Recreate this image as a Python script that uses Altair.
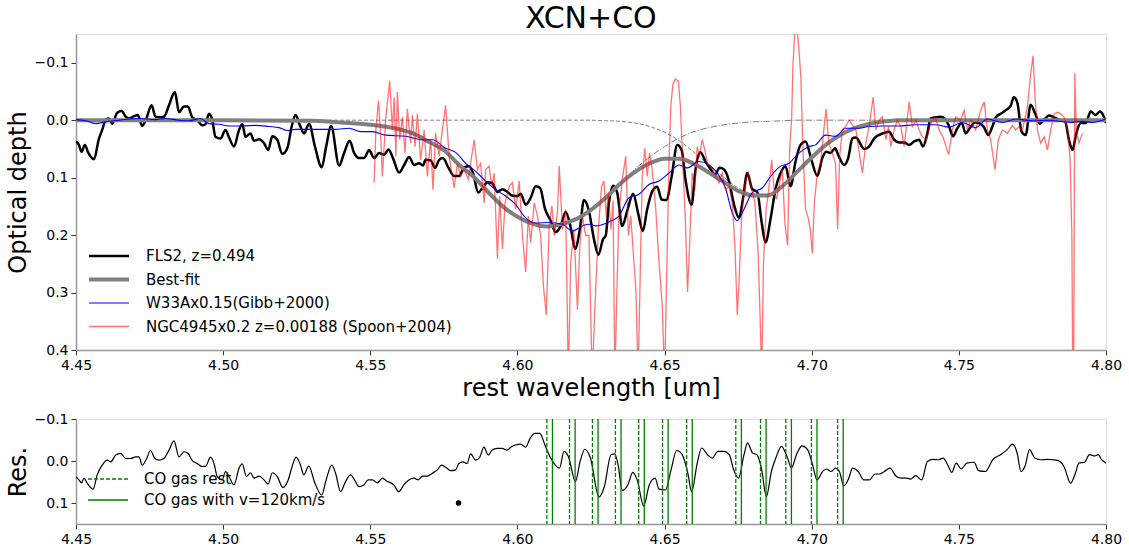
import altair as alt
import pandas as pd

FONT = "DejaVu Sans"

# ---------------- data ----------------
fls2_wl = [4.4500, 4.4510, 4.4519, 4.4530, 4.4542, 4.4561, 4.4578, 4.4589, 4.4601, 4.4612,
           4.4623, 4.4640, 4.4655, 4.4669, 4.4680, 4.4697, 4.4710, 4.4725, 4.4739, 4.4757,
           4.4770, 4.4784, 4.4799, 4.4816, 4.4836, 4.4850, 4.4867, 4.4880, 4.4895, 4.4912,
           4.4929, 4.4940, 4.4952, 4.4963, 4.4974, 4.4991, 4.5008, 4.5020, 4.5037, 4.5054,
           4.5065, 4.5076, 4.5093, 4.5105, 4.5122, 4.5139, 4.5153, 4.5167, 4.5184, 4.5201,
           4.5218, 4.5233, 4.5246, 4.5261, 4.5275, 4.5292, 4.5312, 4.5335, 4.5350, 4.5367,
           4.5394, 4.5411, 4.5430, 4.5445, 4.5462, 4.5479, 4.5496, 4.5513, 4.5530, 4.5547,
           4.5562, 4.5577, 4.5598, 4.5615, 4.5632, 4.5649, 4.5666, 4.5679, 4.5688, 4.5705,
           4.5720, 4.5734, 4.5747, 4.5765, 4.5785, 4.5802, 4.5819, 4.5836, 4.5849, 4.5867,
           4.5881, 4.5898, 4.5913, 4.5932, 4.5949, 4.5966, 4.5981, 4.6000, 4.6011, 4.6028,
           4.6045, 4.6062, 4.6077, 4.6094, 4.6113, 4.6130, 4.6147, 4.6164, 4.6181, 4.6196,
           4.6212, 4.6226, 4.6243, 4.6260, 4.6275, 4.6291, 4.6300, 4.6311, 4.6325, 4.6339,
           4.6356, 4.6373, 4.6393, 4.6411, 4.6426, 4.6441, 4.6458, 4.6475, 4.6490, 4.6506,
           4.6524, 4.6543, 4.6558, 4.6571, 4.6592, 4.6605, 4.6622, 4.6639, 4.6656, 4.6671,
           4.6687, 4.6702, 4.6719, 4.6736, 4.6753, 4.6766, 4.6781, 4.6798, 4.6815, 4.6830,
           4.6843, 4.6860, 4.6877, 4.6894, 4.6911, 4.6928, 4.6945, 4.6962, 4.6979, 4.6999,
           4.7019, 4.7036, 4.7049, 4.7064, 4.7079, 4.7092, 4.7110, 4.7124, 4.7138, 4.7150,
           4.7178, 4.7195, 4.7212, 4.7246, 4.7263, 4.7280, 4.7297, 4.7314, 4.7331, 4.7348,
           4.7365, 4.7378, 4.7393, 4.7404, 4.7421, 4.7438, 4.7455, 4.7467, 4.7480, 4.7495,
           4.7510, 4.7523, 4.7537, 4.7555, 4.7568, 4.7585, 4.7600, 4.7614, 4.7627, 4.7645,
           4.7661, 4.7676, 4.7687, 4.7699, 4.7713, 4.7727, 4.7744, 4.7759, 4.7775, 4.7790,
           4.7806, 4.7823, 4.7840, 4.7861, 4.7874, 4.7886, 4.7899, 4.7914, 4.7931, 4.7948,
           4.7965, 4.7979, 4.7990, 4.8000]
fls2_tau = [0.037, 0.043, 0.055, 0.043, 0.057, 0.068, 0.032, 0.017, -0.001, -0.003,
            0.006, -0.013, -0.016, -0.006, -0.003, -0.007, -0.009, 0.010, -0.003, -0.026,
            -0.006, -0.005, -0.006, -0.026, -0.049, -0.014, -0.024, -0.024, -0.005, 0.000,
            0.009, 0.007, -0.011, 0.000, 0.029, 0.032, 0.017, 0.030, 0.046, 0.017,
            0.007, 0.029, 0.023, 0.036, 0.033, 0.040, 0.052, 0.028, 0.034, 0.059,
            0.049, 0.011, -0.009, 0.009, 0.023, 0.006, 0.046, 0.082, 0.046, 0.010,
            0.079, 0.057, 0.036, 0.057, 0.066, 0.066, 0.052, 0.066, 0.057, 0.060,
            0.051, 0.066, 0.091, 0.078, 0.064, 0.078, 0.075, 0.079, 0.069, 0.070,
            0.083, 0.069, 0.066, 0.082, 0.097, 0.097, 0.082, 0.080, 0.092, 0.126,
            0.118, 0.108, 0.109, 0.125, 0.120, 0.125, 0.131, 0.132, 0.128, 0.147,
            0.135, 0.115, 0.118, 0.155, 0.175, 0.195, 0.184, 0.160, 0.187, 0.224,
            0.190, 0.139, 0.158, 0.207, 0.234, 0.207, 0.201, 0.144, 0.114, 0.126,
            0.184, 0.158, 0.128, 0.164, 0.193, 0.155, 0.124, 0.116, 0.138, 0.139,
            0.098, 0.043, 0.052, 0.103, 0.147, 0.086, 0.056, 0.072, 0.085, 0.095,
            0.083, 0.086, 0.106, 0.147, 0.170, 0.138, 0.092, 0.120, 0.125, 0.178,
            0.213, 0.172, 0.120, 0.092, 0.080, 0.115, 0.072, 0.043, 0.037, 0.069,
            0.097, 0.066, 0.055, 0.057, 0.049, 0.063, 0.078, 0.066, 0.032, 0.030,
            0.050, 0.046, 0.032, 0.022, 0.020, 0.034, 0.039, 0.039, 0.043, 0.037,
            0.034, 0.046, 0.023, -0.003, -0.005, -0.006, -0.001, 0.011, 0.028, 0.014,
            0.005, 0.023, 0.014, 0.004, 0.005, 0.012, 0.026, 0.011, -0.006, -0.012,
            -0.018, -0.025, -0.040, -0.030, 0.020, 0.026, -0.027, -0.012, 0.006, -0.001,
            -0.008, -0.005, -0.001, 0.002, 0.034, 0.052, 0.023, 0.005, 0.005, -0.015,
            -0.009, -0.015, -0.009, 0.005]

fit_wl = [4.450, 4.500, 4.530, 4.540, 4.550, 4.555, 4.560, 4.565, 4.570, 4.575,
          4.580, 4.585, 4.590, 4.595, 4.600, 4.605, 4.610, 4.615, 4.620, 4.625,
          4.630, 4.635, 4.640, 4.645, 4.650, 4.655, 4.660, 4.665, 4.670, 4.675,
          4.680, 4.685, 4.690, 4.695, 4.700, 4.705, 4.710, 4.715, 4.720, 4.725,
          4.730, 4.800]
fit_tau = [0.000, 0.000, 0.001, 0.004, 0.008, 0.011, 0.016, 0.024, 0.038, 0.052,
           0.077, 0.098, 0.125, 0.150, 0.168, 0.180, 0.185, 0.181, 0.172, 0.156,
           0.135, 0.110, 0.090, 0.075, 0.067, 0.067, 0.076, 0.091, 0.107, 0.123,
           0.131, 0.131, 0.115, 0.090, 0.065, 0.042, 0.025, 0.013, 0.006, 0.002,
           0.000, 0.000]
# component 1 (dash-dot) and component 2 (dashed), same wavelength grid as the fit
comp1_tau = [0.000, 0.000, 0.001, 0.004, 0.008, 0.011, 0.016, 0.024, 0.038, 0.052,
             0.077, 0.098, 0.125, 0.150, 0.168, 0.180, 0.185, 0.181, 0.172, 0.156,
             0.134, 0.108, 0.085, 0.064, 0.046, 0.031, 0.020, 0.013, 0.008, 0.005,
             0.003, 0.002, 0.001, 0.000, 0.000, 0.000, 0.000, 0.000, 0.000, 0.000,
             0.000, 0.000]
comp2_tau = [0.000, 0.000, 0.000, 0.000, 0.000, 0.000, 0.000, 0.000, 0.000, 0.000,
             0.000, 0.000, 0.000, 0.000, 0.000, 0.000, 0.000, 0.000, 0.000, 0.000,
             0.001, 0.002, 0.005, 0.011, 0.021, 0.036, 0.056, 0.078, 0.099, 0.118,
             0.128, 0.129, 0.114, 0.090, 0.065, 0.042, 0.025, 0.013, 0.006, 0.002,
             0.000, 0.000]

w33a_wl = [4.4500, 4.4533, 4.4567, 4.4601, 4.4646, 4.4714, 4.4770, 4.4804, 4.4850, 4.4884,
           4.4923, 4.4952, 4.4986, 4.5020, 4.5065, 4.5110, 4.5156, 4.5190, 4.5218, 4.5246,
           4.5292, 4.5337, 4.5382, 4.5428, 4.5468, 4.5507, 4.5553, 4.5620, 4.5677, 4.5711,
           4.5756, 4.5790, 4.5824, 4.5858, 4.5892, 4.5926, 4.5960, 4.5994, 4.6028, 4.6062,
           4.6108, 4.6153, 4.6187, 4.6221, 4.6243, 4.6266, 4.6311, 4.6345, 4.6379, 4.6413,
           4.6447, 4.6481, 4.6515, 4.6549, 4.6577, 4.6617, 4.6651, 4.6679, 4.6707, 4.6730,
           4.6747, 4.6770, 4.6798, 4.6832, 4.6860, 4.6894, 4.6923, 4.6951, 4.6991, 4.7013,
           4.7047, 4.7081, 4.7115, 4.7161, 4.7195, 4.7240, 4.7297, 4.7353, 4.7421, 4.7467,
           4.7512, 4.7557, 4.7597, 4.7648, 4.7693, 4.7750, 4.7806, 4.7880, 4.7920, 4.7954,
           4.8000]
w33a_tau = [-0.001, 0.001, 0.006, 0.003, 0.000, -0.003, -0.001, -0.003, 0.000, 0.001,
            -0.003, 0.006, 0.007, 0.010, 0.010, 0.009, 0.011, 0.013, 0.018, 0.016,
            0.016, 0.016, 0.016, 0.014, 0.020, 0.020, 0.026, 0.028, 0.034, 0.034,
            0.049, 0.056, 0.075, 0.089, 0.106, 0.121, 0.132, 0.147, 0.170, 0.179,
            0.178, 0.181, 0.193, 0.184, 0.181, 0.184, 0.177, 0.167, 0.135, 0.129,
            0.112, 0.106, 0.092, 0.078, 0.083, 0.072, 0.078, 0.092, 0.118, 0.161,
            0.175, 0.155, 0.126, 0.118, 0.098, 0.080, 0.075, 0.060, 0.046, 0.043,
            0.026, 0.028, 0.014, 0.014, 0.011, 0.010, 0.010, 0.008, 0.008, 0.012,
            0.004, 0.013, -0.002, 0.004, -0.002, 0.001, 0.000, 0.004, 0.002, 0.004,
            -0.002]

ngc_wl = [4.5513, 4.5519, 4.5528, 4.5536, 4.5541, 4.5553, 4.5566, 4.5575, 4.5581, 4.5587,
          4.5592, 4.5600, 4.5609, 4.5618, 4.5626, 4.5637, 4.5643, 4.5652, 4.5660, 4.5671,
          4.5683, 4.5694, 4.5705, 4.5713, 4.5722, 4.5734, 4.5745, 4.5756, 4.5768, 4.5779,
          4.5785, 4.5796, 4.5807, 4.5819, 4.5833, 4.5841, 4.5853, 4.5864, 4.5875, 4.5887,
          4.5892, 4.5904, 4.5913, 4.5921, 4.5932, 4.5940, 4.5949, 4.5958, 4.5972, 4.5983,
          4.5994, 4.6006, 4.6017, 4.6028, 4.6037, 4.6045, 4.6057, 4.6068, 4.6079, 4.6088,
          4.6098, 4.6108, 4.6117, 4.6125, 4.6136, 4.6142, 4.6153, 4.6164, 4.6173, 4.6181,
          4.6192, 4.6204, 4.6212, 4.6221, 4.6232, 4.6243, 4.6254, 4.6263, 4.6275, 4.6286,
          4.6294, 4.6302, 4.6309, 4.6318, 4.6325, 4.6331, 4.6338, 4.6345, 4.6356, 4.6368,
          4.6377, 4.6385, 4.6396, 4.6403, 4.6410, 4.6416, 4.6424, 4.6433, 4.6441, 4.6449,
          4.6458, 4.6470, 4.6481, 4.6492, 4.6500, 4.6508, 4.6515, 4.6521, 4.6528, 4.6537,
          4.6547, 4.6554, 4.6562, 4.6571, 4.6578, 4.6585, 4.6594, 4.6603, 4.6611, 4.6619,
          4.6628, 4.6637, 4.6645, 4.6653, 4.6664, 4.6673, 4.6685, 4.6696, 4.6707, 4.6719,
          4.6730, 4.6739, 4.6747, 4.6753, 4.6762, 4.6773, 4.6784, 4.6796, 4.6807, 4.6818,
          4.6825, 4.6830, 4.6836, 4.6845, 4.6854, 4.6864, 4.6872, 4.6880, 4.6889, 4.6900,
          4.6909, 4.6918, 4.6925, 4.6932, 4.6936, 4.6943, 4.6950, 4.6957, 4.6963, 4.6970,
          4.6979, 4.6988, 4.6995, 4.7002, 4.7009, 4.7019, 4.7030, 4.7041, 4.7049, 4.7058,
          4.7070, 4.7081, 4.7088, 4.7095, 4.7104, 4.7115, 4.7127, 4.7150, 4.7172, 4.7184,
          4.7195, 4.7209, 4.7218, 4.7229, 4.7240, 4.7252, 4.7261, 4.7269, 4.7280, 4.7291,
          4.7303, 4.7314, 4.7331, 4.7342, 4.7354, 4.7365, 4.7376, 4.7390, 4.7404, 4.7419,
          4.7433, 4.7446, 4.7465, 4.7478, 4.7489, 4.7506, 4.7518, 4.7529, 4.7540, 4.7557,
          4.7574, 4.7586, 4.7597, 4.7608, 4.7623, 4.7634, 4.7648, 4.7665, 4.7682, 4.7693,
          4.7705, 4.7716, 4.7733, 4.7744, 4.7752, 4.7759, 4.7767, 4.7778, 4.7790, 4.7801,
          4.7812, 4.7824, 4.7835, 4.7846, 4.7857, 4.7869, 4.7878, 4.7884, 4.7887, 4.7890,
          4.7894, 4.7899, 4.7908, 4.7920]
ngc_tau = [0.109, 0.017, -0.034, 0.034, 0.098, -0.006, -0.069, 0.017, -0.040, 0.063,
           -0.049, 0.034, -0.006, 0.057, -0.020, 0.040, -0.009, 0.046, -0.011, 0.069,
           0.017, 0.098, 0.034, 0.121, 0.023, 0.063, 0.017, -0.026, 0.063, 0.098,
           0.118, 0.075, 0.098, 0.086, 0.103, 0.075, 0.034, 0.086, 0.075, 0.144,
           0.086, 0.080, 0.115, 0.092, 0.241, 0.132, 0.224, 0.144, 0.115, 0.109,
           0.155, 0.106, 0.201, 0.264, 0.167, 0.213, 0.144, 0.167, 0.201, 0.287,
           0.339, 0.184, 0.149, 0.201, 0.161, 0.080, 0.190, 0.155, 0.450, 0.247,
           0.190, 0.330, 0.218, 0.167, 0.201, 0.200, 0.450, 0.330, 0.190, 0.115,
           0.106, 0.167, 0.126, 0.190, 0.140, 0.450, 0.300, 0.160, 0.104, 0.063,
           0.201, 0.167, 0.247, 0.300, 0.450, 0.300, 0.098, 0.049, 0.098, 0.057,
           0.086, 0.155, 0.247, 0.322, 0.450, 0.250, 0.075, -0.023, -0.062, -0.072,
           -0.068, -0.023, 0.075, 0.178, 0.299, 0.218, 0.092, 0.121, 0.046, 0.063,
           0.034, 0.052, 0.075, 0.078, 0.086, 0.098, 0.109, 0.092, 0.121, 0.115,
           0.144, 0.218, 0.339, 0.282, 0.167, 0.109, 0.092, 0.121, 0.144, 0.230,
           0.350, 0.450, 0.250, 0.155, 0.121, 0.069, 0.121, 0.138, 0.115, 0.086,
           0.180, 0.218, 0.052, -0.006, -0.092, -0.160, -0.160, -0.120, -0.075, 0.046,
           0.155, 0.170, 0.190, 0.232, 0.144, 0.092, 0.075, 0.017, -0.020, 0.040,
           0.057, 0.075, 0.190, 0.063, 0.017, 0.011, 0.000, 0.017, 0.092, 0.040,
           0.011, -0.040, 0.017, 0.000, -0.006, 0.034, 0.011, 0.046, 0.017, 0.000,
           0.011, 0.046, -0.032, 0.011, 0.000, 0.017, 0.029, 0.034, 0.006, -0.006,
           0.017, 0.029, 0.060, 0.017, -0.006, 0.000, -0.017, 0.017, 0.000, 0.017,
           -0.017, -0.032, 0.017, 0.034, 0.086, 0.034, 0.017, 0.023, 0.009, 0.017,
           0.011, 0.017, -0.023, -0.080, -0.112, -0.040, 0.017, 0.040, 0.029, 0.052,
           0.017, -0.011, -0.014, -0.011, -0.006, 0.017, 0.069, 0.200, 0.450, 0.450,
           -0.082, 0.017, 0.040, 0.023]

res_wl = [4.4500, 4.4510, 4.4519, 4.4527, 4.4538, 4.4558, 4.4572, 4.4589, 4.4606, 4.4618,
          4.4635, 4.4652, 4.4669, 4.4686, 4.4703, 4.4714, 4.4725, 4.4739, 4.4753, 4.4768,
          4.4782, 4.4799, 4.4816, 4.4833, 4.4850, 4.4867, 4.4881, 4.4895, 4.4912, 4.4929,
          4.4940, 4.4957, 4.4969, 4.4980, 4.4997, 4.5008, 4.5020, 4.5037, 4.5054, 4.5065,
          4.5079, 4.5093, 4.5105, 4.5122, 4.5139, 4.5153, 4.5167, 4.5184, 4.5203, 4.5221,
          4.5237, 4.5248, 4.5263, 4.5274, 4.5291, 4.5312, 4.5335, 4.5350, 4.5369, 4.5382,
          4.5399, 4.5416, 4.5433, 4.5448, 4.5461, 4.5478, 4.5493, 4.5507, 4.5524, 4.5541,
          4.5558, 4.5569, 4.5580, 4.5597, 4.5614, 4.5631, 4.5648, 4.5663, 4.5677, 4.5694,
          4.5711, 4.5728, 4.5742, 4.5756, 4.5773, 4.5790, 4.5801, 4.5815, 4.5829, 4.5841,
          4.5858, 4.5872, 4.5886, 4.5901, 4.5914, 4.5931, 4.5948, 4.5965, 4.5980, 4.5994,
          4.6011, 4.6028, 4.6043, 4.6059, 4.6076, 4.6095, 4.6113, 4.6143, 4.6158, 4.6173,
          4.6197, 4.6213, 4.6229, 4.6248, 4.6277, 4.6295, 4.6318, 4.6331, 4.6343, 4.6356,
          4.6375, 4.6392, 4.6407, 4.6429, 4.6448, 4.6468, 4.6481, 4.6503, 4.6522, 4.6541,
          4.6560, 4.6579, 4.6592, 4.6611, 4.6626, 4.6646, 4.6662, 4.6681, 4.6703, 4.6720,
          4.6733, 4.6751, 4.6770, 4.6782, 4.6799, 4.6814, 4.6829, 4.6846, 4.6863, 4.6878,
          4.6897, 4.6918, 4.6931, 4.6948, 4.6967, 4.6986, 4.7003, 4.7018, 4.7037, 4.7050,
          4.7066, 4.7081, 4.7094, 4.7109, 4.7126, 4.7139, 4.7158, 4.7177, 4.7196, 4.7215,
          4.7230, 4.7247, 4.7266, 4.7285, 4.7304, 4.7323, 4.7336, 4.7353, 4.7374, 4.7393,
          4.7412, 4.7431, 4.7447, 4.7462, 4.7476, 4.7491, 4.7508, 4.7527, 4.7552, 4.7567,
          4.7590, 4.7616, 4.7641, 4.7664, 4.7682, 4.7698, 4.7711, 4.7725, 4.7740, 4.7758,
          4.7778, 4.7800, 4.7819, 4.7838, 4.7857, 4.7880, 4.7895, 4.7908, 4.7927, 4.7944,
          4.7962, 4.7974, 4.7985, 4.8000]
res_val = [0.037, 0.045, 0.052, 0.041, 0.053, 0.067, 0.033, 0.010, -0.002, 0.002,
           -0.014, -0.018, -0.006, -0.006, -0.010, -0.010, 0.010, -0.004, -0.025, -0.006,
           -0.002, -0.006, -0.026, -0.048, -0.010, -0.022, -0.018, -0.001, 0.006, 0.013,
           0.013, -0.009, 0.006, 0.037, 0.045, 0.025, 0.037, 0.057, 0.017, 0.007,
           0.037, 0.028, 0.041, 0.036, 0.045, 0.055, 0.028, 0.037, 0.063, 0.045,
           0.007, -0.009, 0.010, 0.033, 0.012, 0.053, 0.081, 0.045, 0.010, 0.029,
           0.073, 0.049, 0.033, 0.047, 0.061, 0.057, 0.045, 0.045, 0.052, 0.041,
           0.049, 0.052, 0.057, 0.073, 0.057, 0.045, 0.041, 0.045, 0.036, 0.036,
           0.029, 0.021, 0.010, 0.015, 0.023, 0.021, 0.006, 0.002, 0.006, -0.017,
           -0.002, -0.009, -0.033, -0.014, -0.026, -0.030, -0.030, -0.026, -0.034, -0.038,
           -0.040, -0.033, -0.054, -0.066, -0.066, -0.035, -0.007, 0.017, -0.023, -0.011,
           0.049, 0.001, -0.028, -0.007, 0.086, 0.062, -0.015, -0.017, 0.013, 0.070,
           0.057, 0.027, 0.045, 0.107, 0.057, 0.041, 0.067, 0.069, 0.021, -0.025,
           -0.015, 0.029, 0.073, 0.005, -0.031, -0.015, -0.007, -0.023, -0.023, -0.015,
           0.017, 0.041, -0.015, -0.043, -0.019, -0.015, 0.017, 0.085, 0.025, -0.007,
           -0.035, -0.007, 0.017, -0.015, -0.036, -0.027, 0.009, 0.045, 0.025, 0.019,
           0.025, 0.017, 0.025, 0.059, 0.041, 0.017, 0.025, 0.045, 0.045, 0.031,
           0.031, 0.025, 0.017, 0.035, 0.041, 0.041, 0.043, 0.035, 0.045, 0.001,
           -0.004, -0.003, -0.007, 0.009, 0.027, 0.005, 0.019, 0.005, 0.003, 0.023,
           0.025, -0.004, -0.015, -0.027, -0.040, -0.019, 0.025, 0.012, -0.027, -0.007,
           -0.003, -0.004, -0.003, -0.001, 0.013, 0.053, 0.031, 0.005, 0.003, -0.015,
           -0.012, -0.015, -0.003, 0.005]

co_rest_wl = [4.6100, 4.6177, 4.6255, 4.6333, 4.6412, 4.6493, 4.6575,
              4.6742, 4.6826, 4.6912, 4.6999, 4.7088]
co_v120_wl = [4.6119, 4.6196, 4.6274, 4.6352, 4.6431, 4.6512, 4.6594,
              4.6761, 4.6845, 4.6931, 4.7018, 4.7107]

dot_wl = [4.58]
dot_val = [0.10]

series_names = ["FLS2, z=0.494", "Best-fit", "W33Ax0.15(Gibb+2000)",
                "NGC4945x0.2 z=0.00188 (Spoon+2004)"]
series_colors = ["black", "gray", "blue", "rgba(255,0,0,0.55)"]
series_widths = [2.5, 4.0, 1.1, 1.3]

co_names = ["CO gas rest", "CO gas with v=120km/s"]

# ---------------- frames ----------------
def frame(wl, val, name):
    return pd.DataFrame({"wl": wl, "val": val, "series": name})

df_fls2 = frame(fls2_wl, fls2_tau, series_names[0])
df_fit = frame(fit_wl, fit_tau, series_names[1])
df_w33a = frame(w33a_wl, w33a_tau, series_names[2])
df_ngc = frame(ngc_wl, ngc_tau, series_names[3])
df_c1 = pd.DataFrame({"wl": fit_wl, "val": comp1_tau})
df_c2 = pd.DataFrame({"wl": fit_wl, "val": comp2_tau})
df_res = pd.DataFrame({"wl": res_wl, "val": res_val})
df_co = pd.concat([
    pd.DataFrame({"wl": co_rest_wl, "kind": co_names[0]}),
    pd.DataFrame({"wl": co_v120_wl, "kind": co_names[1]}),
])
df_dot = pd.DataFrame({"wl": dot_wl, "val": dot_val})

# ---------------- scales / axes ----------------
W = 1030
x_scale = alt.Scale(domain=[4.45, 4.80], nice=False, zero=False)
x_ticks = [4.45, 4.50, 4.55, 4.60, 4.65, 4.70, 4.75, 4.80]

def x_axis(title):
    kw = dict(values=x_ticks, format=".2f", labelFont=FONT, labelFontSize=14,
              labelColor="black", tickColor="#333", tickSize=5, labelPadding=3,
              domainColor="#999", domainWidth=1.5, grid=False, labelFlush=False,
              labelOverlap=False, titleFont=FONT, titleFontSize=24,
              titleFontWeight="normal", titleColor="black", titlePadding=4)
    if title:
        return alt.Axis(title=title, **kw)
    return alt.Axis(title=None, **kw)

def y_axis(title, ticks):
    return alt.Axis(title=title, values=ticks, format=".1f", labelFont=FONT,
                    labelFontSize=14, labelColor="black", tickColor="#333",
                    tickSize=5, labelPadding=3, domainColor="#999", domainWidth=1.5,
                    grid=False, labelFlush=False, labelOverlap=False, titleFont=FONT,
                    titleFontSize=24, titleFontWeight="normal", titleColor="black",
                    titlePadding=4)

top_y = alt.Scale(domain=[-0.15, 0.4], reverse=True, nice=False, zero=False)
bot_y = alt.Scale(domain=[-0.1, 0.15], reverse=True, nice=False, zero=False)

X_top = alt.X("wl:Q", scale=x_scale, axis=x_axis("rest wavelength [um]"))
Y_top = alt.Y("val:Q", scale=top_y, axis=y_axis("Optical depth", [-0.1, 0.0, 0.1, 0.2, 0.3, 0.4]))

top_legend = alt.Legend(title=None, orient="none", legendX=11, legendY=214,
                        symbolType="stroke", symbolSize=1600, clipHeight=16,
                        rowPadding=7.5, labelFont=FONT, labelFontSize=15,
                        labelColor="black", labelOffset=15, padding=0, labelLimit=0)
color_enc = alt.Color("series:N", scale=alt.Scale(domain=series_names, range=series_colors),
                      legend=top_legend)
sw_enc = alt.StrokeWidth("series:N",
                         scale=alt.Scale(type="ordinal", domain=series_names, range=series_widths),
                         legend=top_legend)

c1 = alt.Chart(df_c1).mark_line(color="gray", strokeWidth=1, strokeDash=[6.4, 1.6, 1, 1.6],
                                clip=True, interpolate="monotone").encode(x=X_top, y=Y_top)
c2 = alt.Chart(df_c2).mark_line(color="gray", strokeWidth=1, strokeDash=[4, 2],
                                clip=True, interpolate="monotone").encode(x=X_top, y=Y_top)

def series_layer(df, interp):
    return alt.Chart(df).mark_line(clip=True, interpolate=interp).encode(
        x=X_top, y=Y_top, color=color_enc, strokeWidth=sw_enc)

top = alt.layer(
    c1, c2,
    series_layer(df_fls2, "monotone"),
    series_layer(df_fit, "monotone"),
    series_layer(df_w33a, "monotone"),
    series_layer(df_ngc, "linear"),
).properties(
    width=W, height=316,
    title=alt.Title("XCN+CO", font=FONT, fontSize=30, fontWeight="normal",
                    color="black", anchor="middle", frame="group", offset=0),
)

X_bot = alt.X("wl:Q", scale=x_scale, axis=x_axis(None))
Y_bot = alt.Y("val:Q", scale=bot_y, axis=y_axis("Res.", [-0.1, 0.0, 0.1]))

bot_legend = alt.Legend(title=None, orient="none", legendX=11, legendY=52,
                        symbolType="stroke", symbolSize=1600, clipHeight=16,
                        rowPadding=5, labelFont=FONT, labelFontSize=15,
                        labelColor="black", labelOffset=15, padding=0,
                        symbolStrokeWidth=1.3, labelLimit=0)

co_rules = alt.Chart(df_co).mark_rule(strokeWidth=1.3).encode(
    x=alt.X("wl:Q", scale=x_scale, axis=x_axis(None)),
    color=alt.Color("kind:N", scale=alt.Scale(domain=co_names, range=["green", "green"]),
                    legend=bot_legend),
    strokeDash=alt.StrokeDash("kind:N", scale=alt.Scale(domain=co_names, range=[[4, 2], [1, 0]]),
                              legend=bot_legend),
)
res_line = alt.Chart(df_res).mark_line(color="black", strokeWidth=1.2, clip=True,
                                       interpolate="monotone").encode(x=X_bot, y=Y_bot)
dot = alt.Chart(df_dot).mark_circle(color="black", size=30, opacity=1).encode(x=X_bot, y=Y_bot)

bottom = alt.layer(res_line, co_rules, dot).properties(width=W, height=105)

chart = alt.vconcat(top, bottom, spacing=69, bounds="flush").resolve_scale(
    color="independent", strokeWidth="independent", strokeDash="independent"
).properties(
    padding={"left": 5, "top": 3, "right": 2, "bottom": 0}
).configure_view(stroke="#555", strokeWidth=1.2).configure(background="white")

chart.save("out.html", embed_options={"renderer": "svg", "actions": False})
